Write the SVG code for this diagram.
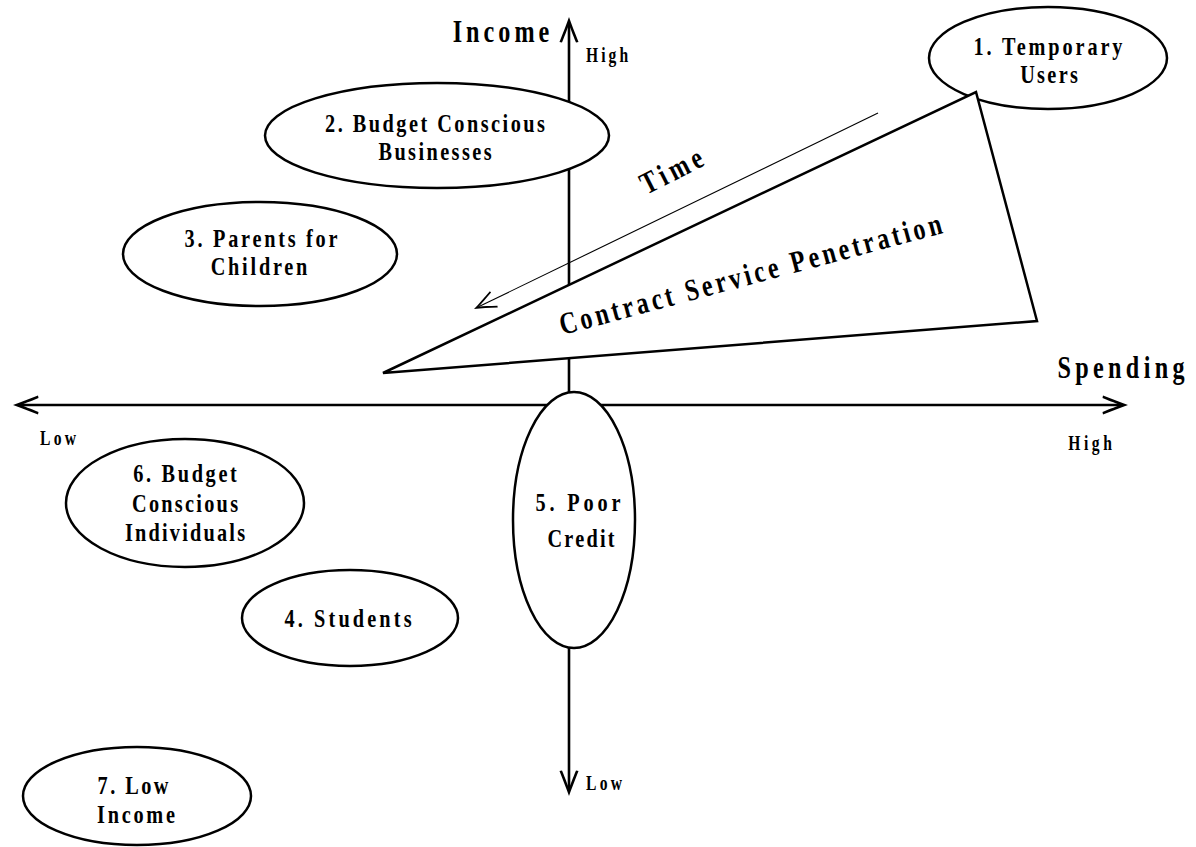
<svg xmlns="http://www.w3.org/2000/svg" width="1196" height="847" viewBox="0 0 1196 847">
<defs>
<style>
.t{font-family:"Liberation Serif","Times New Roman",serif;font-weight:bold;fill:#000;text-anchor:middle}
.n{font-size:26px}
.s{font-size:20px}
.b{font-size:31px}
.shape{fill:#fff;stroke:#000;stroke-width:2.5}
.axis{fill:none;stroke:#000;stroke-width:2.6}
.thin{fill:none;stroke:#000;stroke-width:1.1}
</style>
<marker id="ah" markerUnits="userSpaceOnUse" viewBox="-27 -11 30 22" markerWidth="30" markerHeight="22" refX="-6" refY="0" orient="auto-start-reverse">
<path d="M0,0 C-7,-2.5 -15,-5.5 -25,-9.5 L-25.5,-7 C-17,-3.5 -11,-1.2 -7,0 C-11,1.2 -17,3.5 -25.5,7 L-25,9.5 C-15,5.5 -7,2.5 0,0 Z" fill="#000"/>
</marker>
<marker id="ahs" markerUnits="userSpaceOnUse" viewBox="-25 -11 28 22" markerWidth="28" markerHeight="22" refX="-5" refY="0" orient="auto">
<path d="M0,0 C-7,-2.5 -14,-5.5 -22,-9 L-22.5,-7.3 C-15,-4 -10,-1.5 -5,0 C-10,1.5 -15,4 -22.5,7.3 L-22,9 C-14,5.5 -7,2.5 0,0 Z" fill="#000"/>
</marker>
</defs>
<rect width="1196" height="847" fill="#fff"/>

<g id="connectors">
<line id="income-axis" class="axis" x1="569" y1="23" x2="569" y2="790" marker-start="url(#ah)" marker-end="url(#ah)"/>
<line id="spending-axis" class="axis" x1="19" y1="405" x2="1122" y2="405" marker-start="url(#ah)" marker-end="url(#ah)"/>
<line id="time-arrow" class="thin" x1="878" y1="113" x2="478.5" y2="306.8" marker-end="url(#ahs)"/>
</g>

<g id="axis-labels">
<text class="t b" transform="translate(501,42) scale(0.78,1)" textLength="124" lengthAdjust="spacing">Income</text>
<text class="t s" transform="translate(607,62) scale(0.78,1)" textLength="54" lengthAdjust="spacing">High</text>
<text class="t b" transform="translate(1121,378) scale(0.78,1)" textLength="163" lengthAdjust="spacing">Spending</text>
<text class="t s" transform="translate(1090,450) scale(0.78,1)" textLength="56" lengthAdjust="spacing">High</text>
<text class="t s" transform="translate(58,445) scale(0.78,1)" textLength="46" lengthAdjust="spacing">Low</text>
<text class="t s" transform="translate(604,790) scale(0.78,1)" textLength="46" lengthAdjust="spacing">Low</text>
<text class="t b" transform="translate(676,180) rotate(-27) scale(0.78,1)" textLength="85" lengthAdjust="spacing">Time</text>
</g>

<g id="node1">
<ellipse class="shape" cx="1048" cy="58" rx="119" ry="51"/>
<text class="t n" transform="translate(1048,55) scale(0.78,1)" textLength="191" lengthAdjust="spacing">1. Temporary</text>
<text class="t n" transform="translate(1049,83) scale(0.78,1)" textLength="74" lengthAdjust="spacing">Users</text>
</g>

<g id="penetration">
<polygon class="shape" points="383,373 976,92 1037,321"/>
<text class="t b" transform="translate(753,284) rotate(-15) scale(0.78,1)" textLength="506" lengthAdjust="spacing">Contract Service Penetration</text>
</g>

<g id="node2">
<ellipse class="shape" cx="437" cy="135.5" rx="172" ry="52.5"/>
<text class="t n" transform="translate(435,132) scale(0.78,1)" textLength="282" lengthAdjust="spacing">2. Budget Conscious</text>
<text class="t n" transform="translate(435,160) scale(0.78,1)" textLength="145" lengthAdjust="spacing">Businesses</text>
</g>

<g id="node3">
<ellipse class="shape" cx="260" cy="254" rx="137" ry="52"/>
<text class="t n" transform="translate(261,247) scale(0.78,1)" textLength="196" lengthAdjust="spacing">3. Parents for</text>
<text class="t n" transform="translate(259,275) scale(0.78,1)" textLength="124" lengthAdjust="spacing">Children</text>
</g>

<g id="node4">
<ellipse class="shape" cx="350" cy="618" rx="108" ry="48"/>
<text class="t n" transform="translate(348,627) scale(0.78,1)" textLength="163" lengthAdjust="spacing">4. Students</text>
</g>

<g id="node5">
<ellipse class="shape" cx="574" cy="520" rx="61" ry="128"/>
<text class="t n" transform="translate(578,511) scale(0.78,1)" textLength="109" lengthAdjust="spacing">5. Poor</text>
<text class="t n" transform="translate(581,547) scale(0.78,1)" textLength="86" lengthAdjust="spacing">Credit</text>
</g>

<g id="node6">
<ellipse class="shape" cx="185" cy="503" rx="119" ry="64"/>
<text class="t n" transform="translate(185,482) scale(0.78,1)" textLength="133" lengthAdjust="spacing">6. Budget</text>
<text class="t n" transform="translate(185,512) scale(0.78,1)" textLength="136" lengthAdjust="spacing">Conscious</text>
<text class="t n" transform="translate(185,541) scale(0.78,1)" textLength="154" lengthAdjust="spacing">Individuals</text>
</g>

<g id="node7">
<ellipse class="shape" cx="137" cy="796" rx="114" ry="49"/>
<text class="t n" transform="translate(133,794) scale(0.78,1)" textLength="91" lengthAdjust="spacing">7. Low</text>
<text class="t n" transform="translate(136,823) scale(0.78,1)" textLength="100" lengthAdjust="spacing">Income</text>
</g>
</svg>
